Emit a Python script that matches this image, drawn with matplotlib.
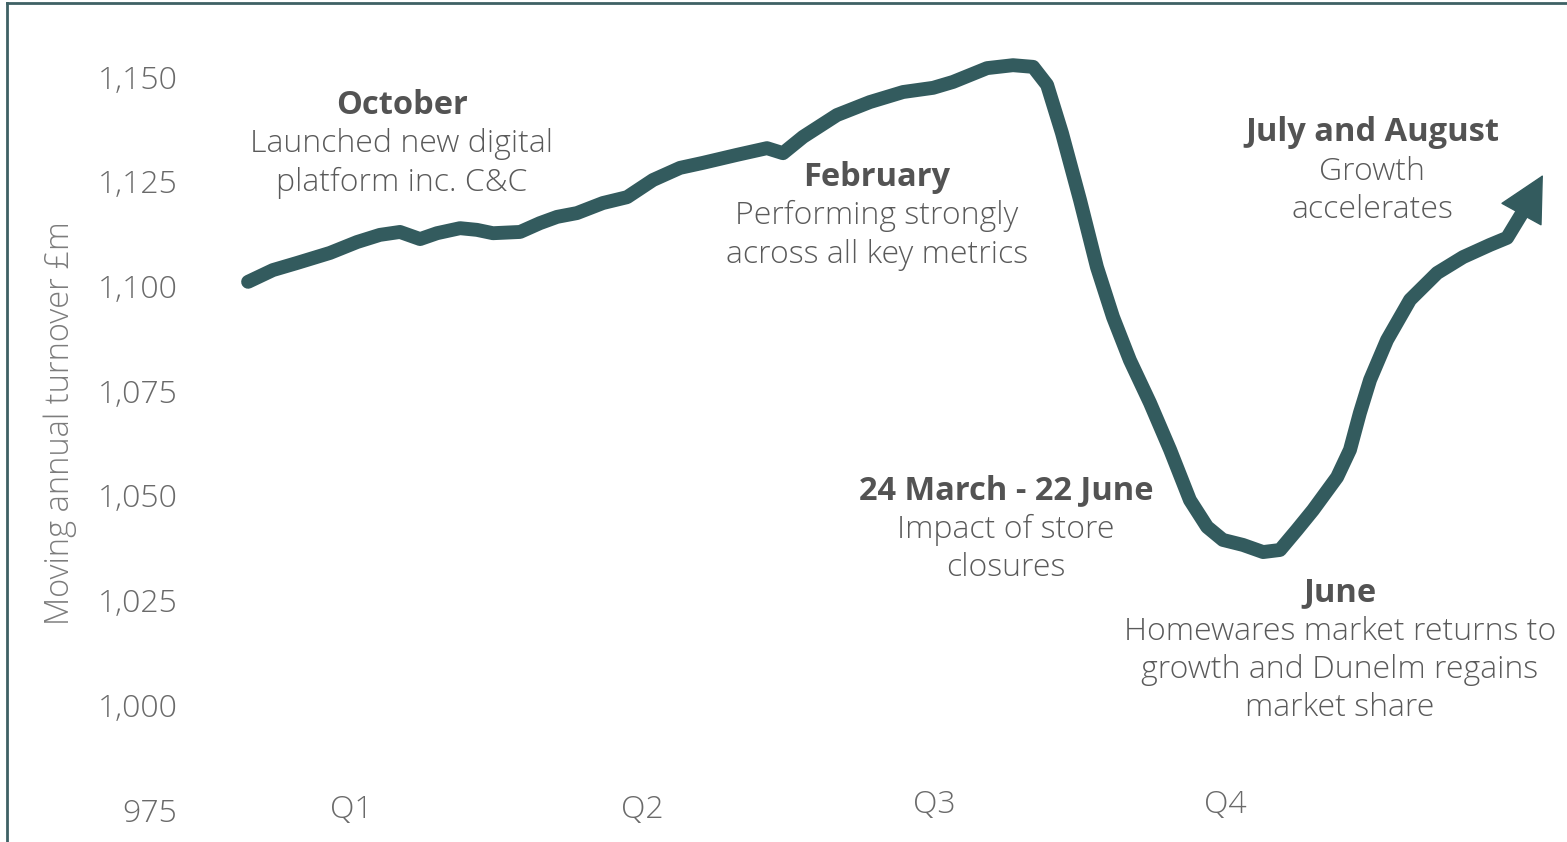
import matplotlib
matplotlib.use("Agg")
import matplotlib.pyplot as plt
from matplotlib.lines import Line2D

# ---------------- data ----------------
# x position in quarter units (Q1 = 1, Q2 = 2, ...), y = moving annual turnover £m
quarter_pos = [0.647, 0.732, 0.815, 0.928, 1.021, 1.099, 1.168, 1.237, 1.295, 1.374,
               1.432, 1.487, 1.580, 1.648, 1.707, 1.775, 1.864, 1.947, 2.036, 2.129,
               2.208, 2.324, 2.427, 2.482, 2.551, 2.667, 2.780, 2.894, 2.997, 3.065,
               3.182, 3.271, 3.340, 3.388, 3.439, 3.501, 3.559, 3.614, 3.672, 3.741,
               3.810, 3.878, 3.937, 3.991, 4.060, 4.129, 4.187, 4.245, 4.300, 4.383,
               4.427, 4.461, 4.496, 4.554, 4.633, 4.726, 4.815, 4.907, 4.966, 5.014,
               5.089]
turnover = [1101.0, 1103.8, 1105.5, 1107.9, 1110.5, 1112.2, 1112.9, 1111.2, 1112.6, 1113.8,
            1113.4, 1112.6, 1112.9, 1115.0, 1116.5, 1117.4, 1119.8, 1121.2, 1125.3, 1128.2,
            1129.4, 1131.3, 1132.9, 1131.7, 1135.6, 1140.8, 1143.9, 1146.3, 1147.3, 1148.7,
            1152.0, 1152.7, 1152.3, 1148.0, 1136.5, 1120.5, 1104.5, 1092.6, 1082.3, 1072.1,
            1060.9, 1048.9, 1042.5, 1039.4, 1038.2, 1036.5, 1037.0, 1041.8, 1046.5, 1054.4,
            1060.9, 1069.7, 1077.6, 1087.1, 1096.7, 1103.1, 1106.9, 1109.8, 1111.5, 1117.0,
            1126.5]

quarter_labels = ["Q1", "Q2", "Q3", "Q4"]
quarter_ticks = [1, 2, 3, 4]
y_ticks = [975, 1000, 1025, 1050, 1075, 1100, 1125, 1150]
y_label = "Moving annual turnover £m"

annotations = [
    ("October", ["Launched new digital", "platform inc. C&C"]),
    ("February", ["Performing strongly", "across all key metrics"]),
    ("24 March - 22 June", ["Impact of store", "closures"]),
    ("June", ["Homewares market returns to", "growth and Dunelm regains", "market share"]),
    ("July and August", ["Growth", "accelerates"]),
]
# layout (figure pixel positions: centre x, first baseline y)
ann_pos = [(402, 114), (877, 186), (1006, 499), (1340, 601), (1372, 141)]
line_step = 38.5

# ---------------- style ----------------
W, H = 1567, 842
LINE_C = "#335b5e"
FRAME_C = "#3f6165"
TICK_C = "#6a6a6a"
TEXT_C = "#5a5a5a"
BOLD_C = "#535353"
FONT = "Open Sans"
LIGHT = "light"

fig = plt.figure(figsize=(W / 100, H / 100), dpi=100)
fig.patch.set_facecolor("white")

ax_left = 190 / W
ax = fig.add_axes([ax_left, 0, 1 - ax_left, 1])
ax.set_xlim(0.4477, 5.1715)
ax.set_ylim(967.3, 1168.26)
for s in ax.spines.values():
    s.set_visible(False)

ax.plot(quarter_pos[:-1], turnover[:-1], color=LINE_C, lw=10,
        solid_capstyle="round", solid_joinstyle="round")
ax.annotate("", xy=(quarter_pos[-1], turnover[-1]),
            xytext=(quarter_pos[-2], turnover[-2]),
            arrowprops=dict(arrowstyle="-|>,head_length=3.1,head_width=1.6",
                            mutation_scale=10, color=LINE_C, lw=1,
                            shrinkA=0, shrinkB=0))

ax.set_yticks(y_ticks)
ax.set_yticklabels([f"{v:,}" for v in y_ticks], fontfamily=FONT,
                   fontweight=LIGHT, fontsize=23, color=TICK_C)
ax.tick_params(axis="y", length=0, pad=9)
ax.set_xticks([])

q_label_y = [975, 975, 976.2, 976.2]
for q, lab, yy in zip(quarter_ticks, quarter_labels, q_label_y):
    ax.text(q, yy, lab, ha="center", va="center", fontfamily=FONT,
            fontweight=LIGHT, fontsize=23, color=TICK_C)

fig.text(60 / W, 1 - 423 / H, y_label, rotation=90, ha="center", va="center",
         fontfamily=FONT, fontweight=LIGHT, fontsize=23.5, color="#7c7c7c")

for (title, body), (cx, by) in zip(annotations, ann_pos):
    fig.text(cx / W, 1 - by / H, title, ha="center", va="baseline",
             fontfamily=FONT, fontweight="bold", fontsize=23.5, color=BOLD_C)
    for i, line in enumerate(body):
        fig.text(cx / W, 1 - (by + line_step * (i + 1)) / H, line, ha="center",
                 va="baseline", fontfamily=FONT, fontweight=LIGHT,
                 fontsize=23, color=TEXT_C)

# frame lines (left and top)
fig.add_artist(Line2D([7 / W, 7 / W], [0, 1 - 3 / H], color=FRAME_C, lw=2,
                      transform=fig.transFigure))
fig.add_artist(Line2D([7 / W, 1], [1 - 3 / H, 1 - 3 / H], color=FRAME_C, lw=2,
                      transform=fig.transFigure))

fig.savefig("out.png", dpi=100, facecolor="white")
